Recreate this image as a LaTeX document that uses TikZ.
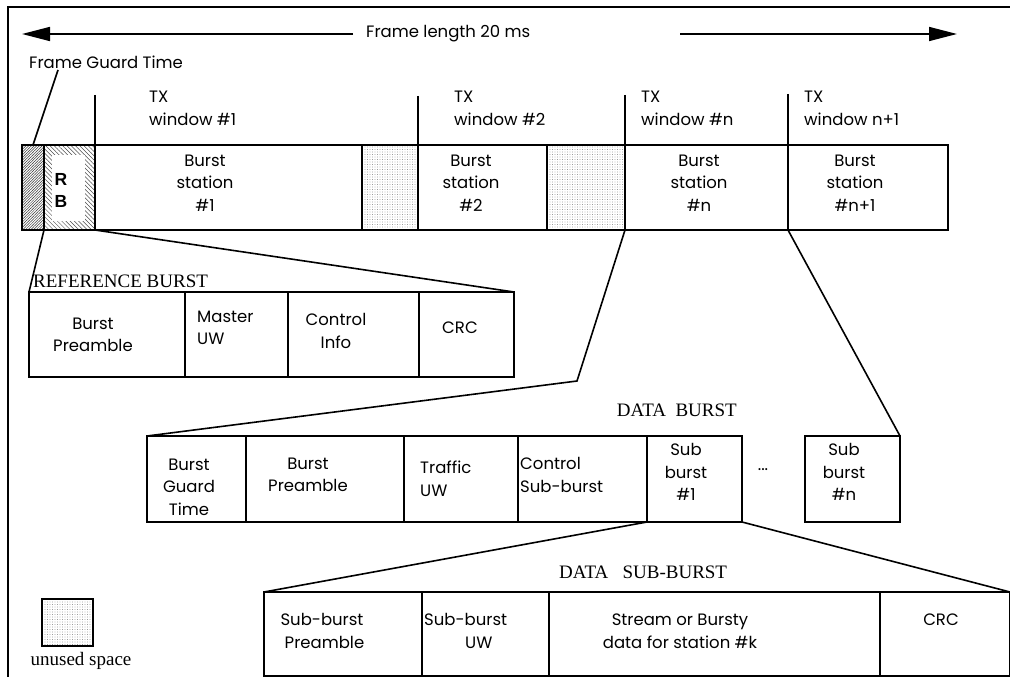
\documentclass[tikz,border=0pt]{standalone}
\usepackage{fontspec}
\setmainfont{Poppins}
\newfontfamily\capfont{Liberation Serif}
\newfontfamily\rbfont{Liberation Sans}
\usetikzlibrary{patterns.meta,fit,arrows.meta}

\begin{document}
\begin{tikzpicture}[x=1pt,y=-1pt,
  lw/.style={line width=1.6pt},
  cell/.style={draw, line width=1.6pt, inner sep=0pt, outer sep=0pt},
  txt/.style={font=\fontsize{16.5}{22.5}\selectfont, inner sep=0pt, align=center},
  ltxt/.style={txt, align=left},
  captxt/.style={font=\capfont\fontsize{19}{22}\selectfont, inner sep=0pt},
  unused/.style={pattern={Dots[distance=2.5pt,radius=0.4pt]}, pattern color=black!60},
  guardhatch/.style={pattern={Lines[angle=45,distance=1.9pt,line width=0.5pt]}, pattern color=black!80},
  rbhatch/.style={pattern={Lines[angle=-45,distance=3pt,line width=0.5pt]}, pattern color=black!70},
  arr/.style={line width=1.6pt, -{Triangle[length=28pt,width=14pt]}}
]
\useasboundingbox (0,0) rectangle (1010,677);
\clip (0,0) rectangle (1010,677);

% outer frame
\draw[lw] (8,700) -- (8,7) -- (1030,7);

% frame length arrow
\node[txt, anchor=west] (flen) at (366,34) {Frame length 20 ms};
\coordinate (la) at (353,34);
\coordinate (lt) at (22,34);
\coordinate (ra) at (680,34);
\coordinate (rt) at (957,34);
\draw[arr] (la) -- (lt);
\draw[arr] (ra) -- (rt);

% ---------------- frame row ----------------
\node[cell, guardhatch, fit={(22,145) (44,230)}] (fgt) {};
\node[cell, rbhatch, fit={(44,145) (95,230)}] (rb) {};
\fill[white] (52,155) rectangle (85,221);
\node[font=\rbfont\bfseries\fontsize{17.5}{22}\selectfont, inner sep=0pt, align=center] (rbl) at (61,190) {R\\B};
\node[cell, fit={(95,145) (362,230)}] (bs1) {};
\node[cell, unused, fit={(362,145) (418,230)}] (un1) {};
\node[cell, fit={(418,145) (547,230)}] (bs2) {};
\node[cell, unused, fit={(547,145) (625,230)}] (un2) {};
\node[cell, fit={(625,145) (788,230)}] (bsn) {};
\node[cell, fit={(788,145) (948,230)}] (bsn1) {};

\node[txt] (bs1l) at (205,183) {Burst\\station\\\#1};
\node[txt] (bs2l) at (471,183) {Burst\\station\\\#2};
\node[txt] (bsnl) at (699,183) {Burst\\station\\\#n};
\node[txt] (bsn1l) at (855,183) {Burst\\station\\\#n+1};

% window ticks and labels
\coordinate (t1) at (95,95);
\coordinate (t2) at (418,96);
\coordinate (tn) at (625,95);
\coordinate (tn1) at (788,94);
\draw[lw] (t1) -- (bs1.north west);
\draw[lw] (t2) -- (bs2.north west);
\draw[lw] (tn) -- (bsn.north west);
\draw[lw] (tn1) -- (bsn1.north west);
\node[ltxt, anchor=north west] (w1) at (149,91) {TX\\window \#1};
\node[ltxt, anchor=north west] (w2) at (454,91) {TX\\window \#2};
\node[ltxt, anchor=north west] (wn) at (641,91) {TX\\window \#n};
\node[ltxt, anchor=north west] (wn1) at (804,91) {TX\\window n+1};

% frame guard time
\node[txt, anchor=west] (fgtl) at (29,62) {Frame Guard Time};
\coordinate (fgtp) at (58,70);
\draw[lw] (fgtp) -- (fgt.north);

% ---------------- reference burst ----------------
\node[captxt, anchor=west] (rbcap) at (33,281) {REFERENCE BURST};
\node[cell, fit={(29,292) (185,377)}] (rpre) {};
\node[cell, fit={(185,292) (288,377)}] (ruw) {};
\node[cell, fit={(288,292) (419,377)}] (rci) {};
\node[cell, fit={(419,292) (514,377)}] (rcrc) {};
\draw[lw] (fgt.south east) -- (rpre.north west);
\draw[lw] (rb.south east) -- (rcrc.north east);
\node[txt] (rprel) at (93,335) {Burst\\Preamble};
\node[ltxt, anchor=west] (ruwl) at (197,328) {Master\\UW};
\node[txt] (rcil) at (336,331) {Control\\Info};
\node[txt] (rcrcl) at (460,328) {CRC};

% ---------------- data burst ----------------
\node[captxt, anchor=east] (dbcap) at (737,410) {DATA\ \ BURST};
\node[cell, fit={(147,436) (246,522)}] (bgt) {};
\node[cell, fit={(246,436) (404,522)}] (bpre) {};
\node[cell, fit={(404,436) (518,522)}] (tuw) {};
\node[cell, fit={(518,436) (647,522)}] (csb) {};
\node[cell, fit={(647,436) (742,522)}] (sb1) {};
\node[cell, fit={(805,436) (900,522)}] (sbn) {};
\coordinate (bend) at (577,381);
\draw[lw] (bsn.south west) -- (bend) -- (bgt.north west);
\draw[lw] (bsn1.south west) -- (sbn.north east);
\node[txt] (bgtl) at (189,487) {Burst\\Guard\\Time};
\node[txt] (bprel) at (308,475) {Burst\\Preamble};
\node[ltxt, anchor=west] (tuwl) at (420,479) {Traffic\\UW};
\node[ltxt, anchor=west] (csbl) at (520,475) {Control\\Sub-burst};
\node[txt] (sb1l) at (686,472) {Sub\\burst\\\#1};
\node[txt] (dots) at (763,470) {...};
\node[txt] (sbnl) at (844,472) {Sub\\burst\\\#n};

% ---------------- data sub-burst ----------------
\node[captxt, anchor=west] (sbcap) at (559,572) {DATA\ \ \ SUB-BURST};
\node[cell, fit={(264,592) (422,676)}] (spre) {};
\node[cell, fit={(422,592) (549,676)}] (suw) {};
\node[cell, fit={(549,592) (880,676)}] (sdat) {};
\node[cell, fit={(880,592) (1010,676)}] (scrc) {};
\draw[lw] (sb1.south west) -- (spre.north west);
\draw[lw] (sb1.south east) -- (scrc.north east);
\node[txt] (sprel) at (322,631) {Sub-burst\\\hspace*{5pt}Preamble};
\node[ltxt, anchor=west] (suwl) at (424,631) {Sub-burst\\\hspace*{41pt}UW};
\node[txt] (sdatl) at (680,631) {Stream or Bursty\\data for station \#k};
\node[txt] (scrcl) at (941,620) {CRC};

% legend
\node[cell, unused, fit={(42,599) (93,646)}] (leg) {};
\node[captxt] (legl) at (81,661) {unused space};

\end{tikzpicture}
\end{document}
